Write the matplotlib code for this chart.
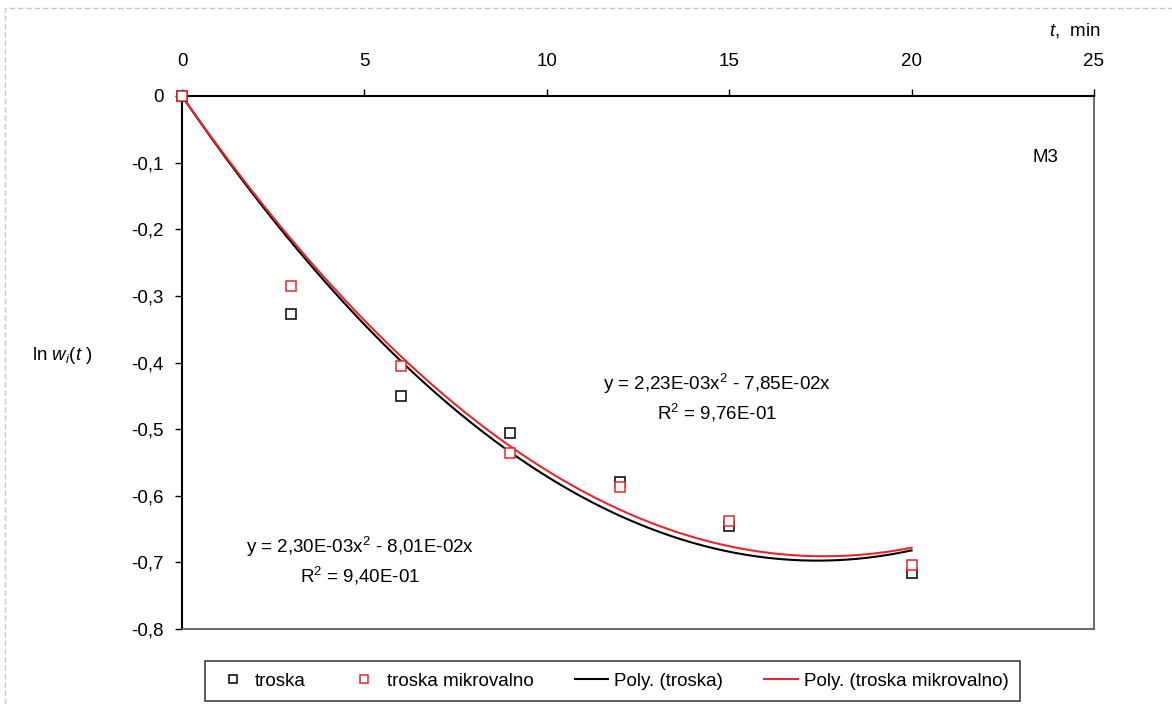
import matplotlib
matplotlib.use("Agg")
import matplotlib.pyplot as plt
import numpy as np
from matplotlib.ticker import FuncFormatter
from matplotlib.patches import Rectangle

plt.rcParams['font.family'] = ['Liberation Sans', 'DejaVu Sans']
plt.rcParams['mathtext.fontset'] = 'custom'
plt.rcParams['mathtext.rm'] = 'Liberation Sans'
plt.rcParams['mathtext.it'] = 'Liberation Sans:italic'

# measured points, t in min
t = [0, 3, 6, 9, 12, 15, 20]
troska = [0, -0.327, -0.450, -0.506, -0.580, -0.646, -0.716]
troska_mikrovalno = [0, -0.285, -0.405, -0.536, -0.587, -0.638, -0.704]

# polynomial trend coefficients (a*x^2 + b*x)
fit_troska = [2.30e-3, -8.01e-2]
fit_mikrovalno = [2.23e-3, -7.85e-2]
r2_troska = 9.40e-1
r2_mikrovalno = 9.76e-01

xticks = [0, 5, 10, 15, 20, 25]
yticks = [0, -0.1, -0.2, -0.3, -0.4, -0.5, -0.6, -0.7, -0.8]

FS = 13.5


def comma(v, pos=None):
    s = f"{v:g}"
    if s == "-0":
        s = "0"
    return s.replace(".", ",")


def sci(v):
    return f"{v:.2E}".replace(".", ",")


fig = plt.figure(figsize=(11.72, 7.04), dpi=100)
ax = fig.add_axes([182 / 1172, 1 - 629 / 704, (1094 - 182) / 1172, (629 - 96) / 704])

# outer dashed frame
fig.patches.append(Rectangle((0.004, -0.05), 1.2, 1.039, transform=fig.transFigure,
                             fill=False, ec='#c8c8c8', lw=1, ls=(0, (4, 2))))

xs = np.linspace(0, 20, 200)
ax.plot(t, troska, 's', ms=7, mfc='white', mec='black', mew=1.1, ls='none',
        label='troska', zorder=4, clip_on=False)
ax.plot(t, troska_mikrovalno, 's', ms=7, mfc='white', mec='#e8262b', mew=1.1, ls='none',
        label='troska mikrovalno', zorder=5, clip_on=False)
ax.plot(xs, fit_troska[0] * xs**2 + fit_troska[1] * xs, color='black', lw=1.5,
        label='Poly. (troska)', zorder=3)
ax.plot(xs, fit_mikrovalno[0] * xs**2 + fit_mikrovalno[1] * xs, color='#e8262b', lw=1.5,
        label='Poly. (troska mikrovalno)', zorder=3)

ax.set_xlim(0, 25)
ax.set_ylim(-0.8, 0)
ax.xaxis.tick_top()
ax.set_xticks(xticks)
ax.set_yticks(yticks)
ax.xaxis.set_major_formatter(FuncFormatter(comma))
ax.yaxis.set_major_formatter(FuncFormatter(comma))
ax.tick_params(axis='both', direction='out', length=5, width=1, labelsize=FS)
ax.tick_params(axis='x', pad=14)
ax.tick_params(axis='y', pad=8)

for side in ['top', 'left']:
    ax.spines[side].set_color('black')
    ax.spines[side].set_linewidth(1.5)
for side in ['bottom', 'right']:
    ax.spines[side].set_color('#505050')
    ax.spines[side].set_linewidth(1.2)

ax.text(1075 / 1172, 1 - 30 / 704, r'$\mathit{t}$,  min', transform=fig.transFigure,
        ha='center', va='center', fontsize=FS)
ax.text(62 / 1172, 1 - 355 / 704, r'ln $\mathit{w_i}$($\mathit{t}$ )', transform=fig.transFigure,
        ha='center', va='center', fontsize=FS)
ax.text(1045 / 1172, 1 - 157 / 704, 'M3', transform=fig.transFigure,
        ha='center', va='center', fontsize=FS)

ax.text(717 / 1172, 1 - 384 / 704,
        f"y = {sci(fit_mikrovalno[0])}x$^2$ - {sci(-fit_mikrovalno[1])}x",
        transform=fig.transFigure, ha='center', va='center', fontsize=FS)
ax.text(717 / 1172, 1 - 413 / 704, f"R$^2$ = {sci(r2_mikrovalno)}",
        transform=fig.transFigure, ha='center', va='center', fontsize=FS)
ax.text(360 / 1172, 1 - 547 / 704,
        f"y = {sci(fit_troska[0])}x$^2$ - {sci(-fit_troska[1])}x",
        transform=fig.transFigure, ha='center', va='center', fontsize=FS)
ax.text(360 / 1172, 1 - 576 / 704, f"R$^2$ = {sci(r2_troska)}",
        transform=fig.transFigure, ha='center', va='center', fontsize=FS)

leg = fig.legend(loc='center', bbox_to_anchor=(612 / 1172, 1 - 681 / 704), ncol=4,
                 fontsize=FS, frameon=True, fancybox=False, edgecolor='#404040',
                 framealpha=1, handlelength=1.8, columnspacing=2.2, handletextpad=0.3,
                 borderpad=0.6, markerscale=0.75)
leg.get_frame().set_linewidth(1.2)

fig.savefig('out.png', dpi=100)
